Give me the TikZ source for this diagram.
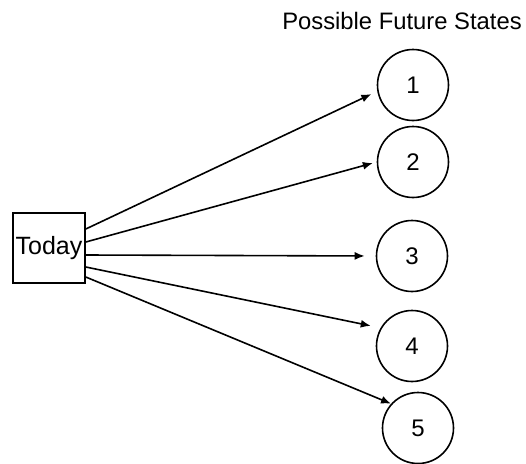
\documentclass[tikz,border=0pt]{standalone}
\usepackage{fontspec}
\setmainfont{Liberation Sans}
\usetikzlibrary{arrows.meta}
\begin{document}
\begin{tikzpicture}[x=1pt,y=-1pt,
  state/.style={draw,circle,line width=1.6pt,minimum size=71pt,inner sep=0pt,font=\fontsize{24}{24}\selectfont},
  link/.style={line width=1.6pt,-{Latex[length=10pt,width=8pt]}}]
\useasboundingbox[fill=white] (0,0) rectangle (526,463);
\node[font=\fontsize{23.8}{23.8}\selectfont] (title) at (402,21) {Possible Future States};
\node[draw,line width=1.6pt,minimum width=72pt,minimum height=70pt,inner sep=0pt,font=\fontsize{25}{25}\selectfont] (today) at (49,248) {Today};
\node[state] (s1) at (413,85) {1};
\node[state] (s2) at (413,162) {2};
\node[state] (s3) at (412,256) {3};
\node[state] (s4) at (412,346) {4};
\node[state] (s5) at (418,428) {5};
\draw[link,shorten >=6.5pt] ([yshift=19pt]today.east) -- (s1.190);
\draw[link,shorten >=4pt] ([yshift=6pt]today.east) -- (s2.west);
\draw[link,shorten >=11pt] ([yshift=-7pt]today.east) -- (s3.west);
\draw[link,shorten >=10pt] ([yshift=-19pt]today.east) -- (s4.150);
\draw[link] ([yshift=-29pt]today.east) -- (s5.138);
\end{tikzpicture}
\end{document}
